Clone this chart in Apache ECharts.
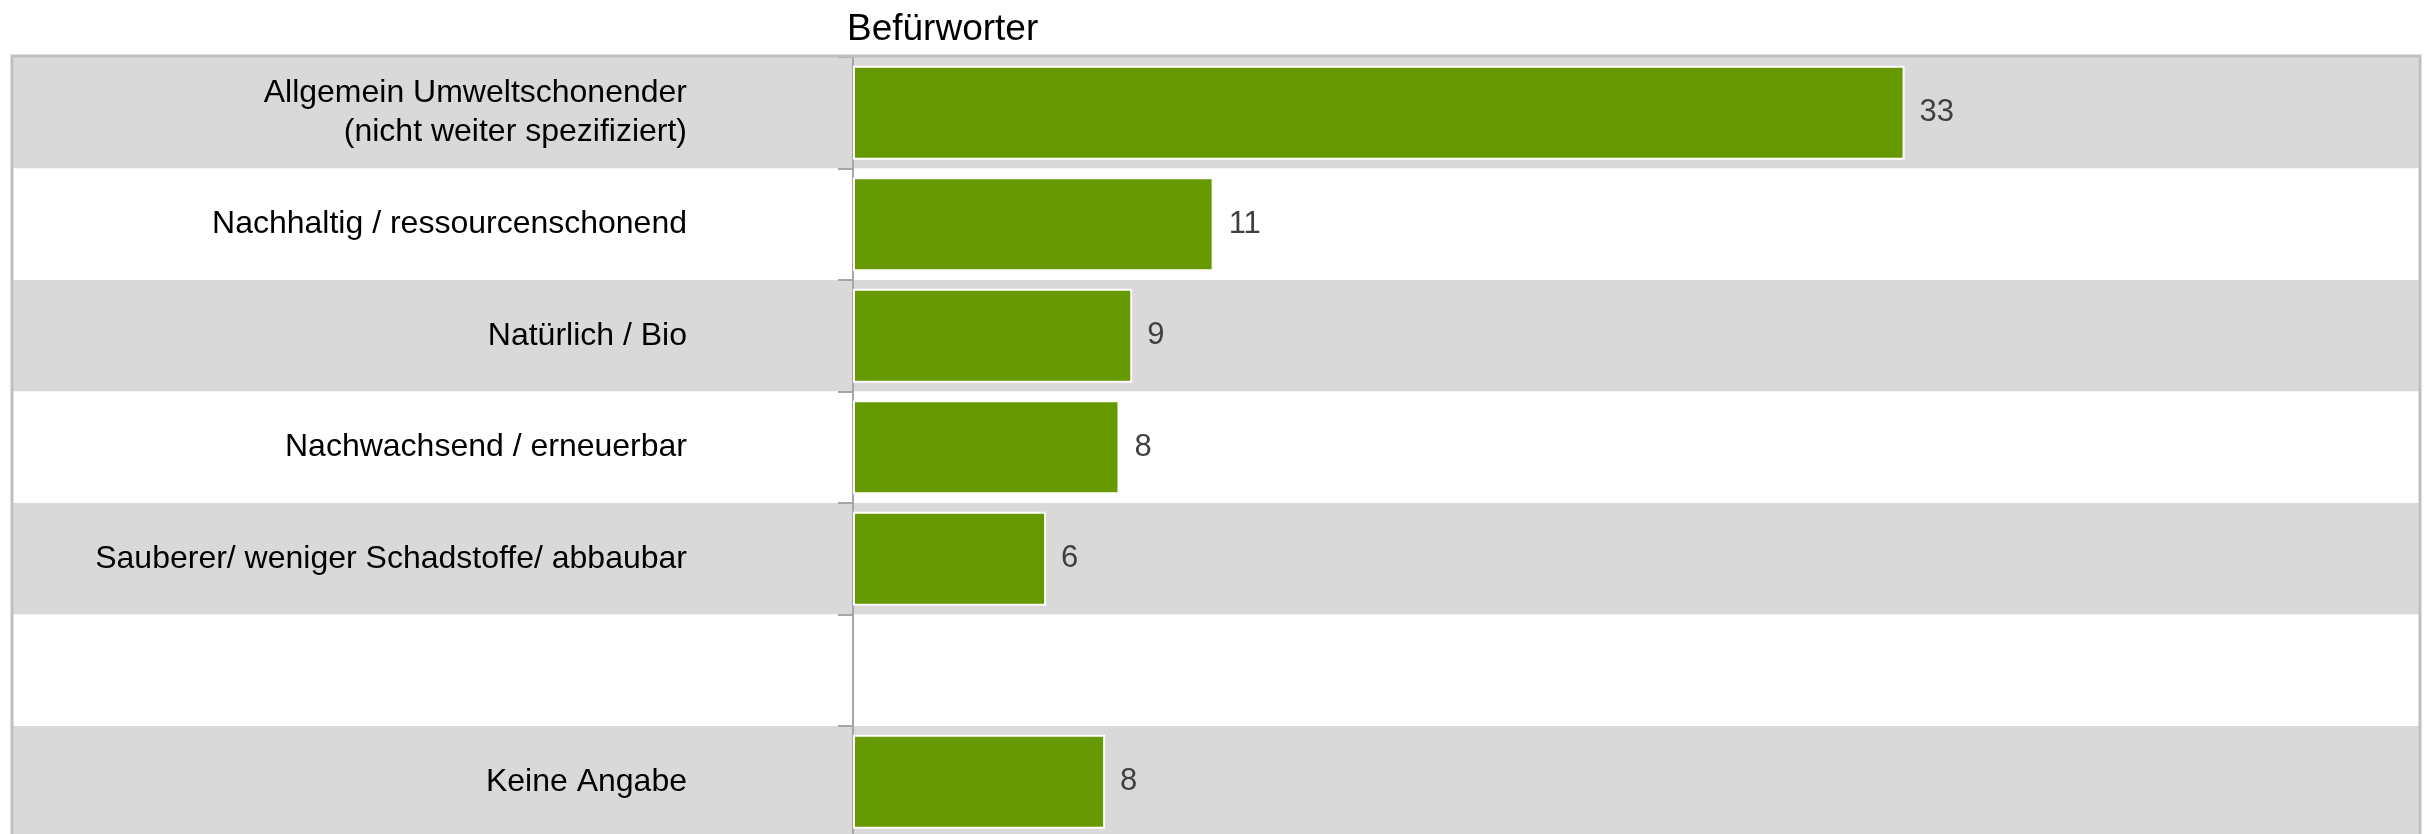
<!DOCTYPE html>
<html>
<head>
<meta charset="utf-8">
<title>Befürworter</title>
<script src="https://cdn.jsdelivr.net/npm/echarts@6/dist/echarts.min.js"></script>
<style>
  html, body { margin: 0; padding: 0; background: #fff; }
  #chart { width: 2433px; height: 834px; }
</style>
</head>
<body>
<div id="chart"></div>
<script>
// categories top to bottom, '' is the empty gap row
const categories = [
  "Allgemein Umweltschonender\n(nicht weiter spezifiziert)",
  "Nachhaltig / ressourcenschonend",
  "Natürlich / Bio",
  "Nachwachsend / erneuerbar",
  "Sauberer/ weniger Schadstoffe/ abbaubar",
  "",
  "Keine Angabe"
];
// labels show them rounded
const values = [32.95, 11.3, 8.75, 8.35, 6.05, null, 7.9];
const chartTitle = "Befürworter";

const font = "'Liberation Sans', Arial, sans-serif";
const bandColors = ["#d9d9d9", "#ffffff"];

const chart = echarts.init(document.getElementById("chart"));

const option = {
  animation: false,
  title: {
    text: chartTitle,
    left: 842,
    top: 6,
    textStyle: { fontFamily: font, fontSize: 37, fontWeight: "normal", color: "#000" }
  },
  grid: [
    // label area, only the bands
    { left: 12, width: 841, top: 57, height: 780.5, outerBoundsMode: "none" },
    // bar area
    { left: 853, right: 13, top: 57, height: 780.5, outerBoundsMode: "none" },
    // outer frame, bottom edge falls off the picture
    {
      left: 12, right: 13, top: 56, height: 950,
      outerBoundsMode: "none",
      show: true, borderColor: "#c0c0c0", borderWidth: 3,
      backgroundColor: "transparent", z: 5
    }
  ],
  xAxis: [
    { gridIndex: 0, type: "value", min: 0, max: 1, show: false },
    { gridIndex: 1, type: "value", min: 0, max: 49.1, show: false },
    { gridIndex: 2, type: "value", show: false }
  ],
  yAxis: [
    {
      gridIndex: 0,
      type: "category",
      data: categories,
      inverse: true,
      axisLine: { show: false },
      axisTick: { show: false },
      axisLabel: { show: false },
      splitArea: { show: true, areaStyle: { color: bandColors } }
    },
    {
      gridIndex: 1,
      type: "category",
      data: categories,
      inverse: true,
      axisLine: { show: true, lineStyle: { color: "#a6a6a6", width: 2 } },
      axisTick: { show: true, length: 15, lineStyle: { color: "#a6a6a6", width: 2 } },
      axisLabel: {
        margin: 166,
        fontFamily: font,
        fontSize: 32,
        lineHeight: 39,
        color: "#000"
      },
      splitArea: { show: true, areaStyle: { color: bandColors } }
    },
    { gridIndex: 2, type: "category", show: false }
  ],
  series: [
    {
      type: "bar",
      xAxisIndex: 1,
      yAxisIndex: 1,
      data: values,
      barWidth: 94,
      itemStyle: { color: "#669900", borderColor: "#ffffff", borderWidth: 2 },
      label: {
        show: true,
        position: "right",
        distance: 15,
        fontFamily: font,
        fontSize: 31,
        color: "#404040",
        formatter: (p) => Math.round(p.value)
      }
    }
  ]
};

chart.setOption(option);
</script>
</body>
</html>
